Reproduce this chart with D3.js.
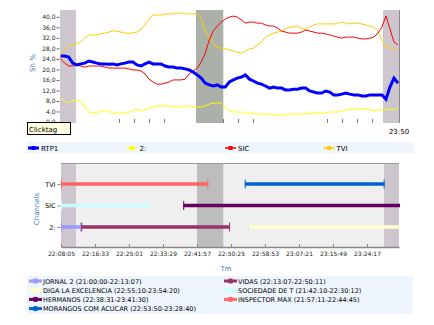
<!DOCTYPE html>
<html><head><meta charset="utf-8">
<script src="https://cdn.jsdelivr.net/npm/d3@7"></script>
<style>body{margin:0;background:#fff;} svg{display:block;font-family:"DejaVu Sans",sans-serif;}</style>
</head><body><svg id="c" width="434" height="325"></svg>
<script>
// ---------- data ----------
const times = ["22:08","22:09","22:10","22:11","22:12","22:13","22:14","22:15","22:16","22:17",
"22:18","22:19","22:20","22:21","22:22","22:23","22:24","22:25","22:26","22:27",
"22:28","22:29","22:30","22:31","22:32","22:33","22:34","22:35","22:36","22:37",
"22:38","22:39","22:40","22:41","22:42","22:43","22:44","22:45","22:46","22:47",
"22:48","22:49","22:50","22:51","22:52","22:53","22:54","22:55","22:56","22:57",
"22:58","22:59","23:00","23:01","23:02","23:03","23:04","23:05","23:06","23:07",
"23:08","23:09","23:10","23:11","23:12","23:13","23:14","23:15","23:16","23:17",
"23:18","23:19","23:20","23:21","23:22","23:23","23:24","23:25","23:26","23:27",
"23:28","23:29","23:30","23:31","23:32"];
const seriesNames = ["RTP1","2:","SIC","TVI"];
const rtp1 = [25.1,25.1,24.7,22.4,21.7,22.1,22.4,23.2,22.8,22.4,
22.1,22.1,22.0,22.1,21.7,22.1,22.4,22.8,22.8,21.7,
21.3,22.1,22.8,22.1,22.1,22.1,21.3,20.9,20.9,20.5,
20.5,20.2,19.8,19.0,17.9,16.7,14.8,14.1,13.7,14.1,
13.3,13.3,15.2,16.0,16.7,17.1,17.9,16.3,15.6,14.8,
14.4,13.7,12.9,13.3,12.9,12.9,12.2,12.2,12.5,12.5,
12.9,12.9,11.8,11.4,11.0,11.0,11.8,11.4,10.3,10.3,
10.6,11.0,10.6,10.3,10.3,9.9,9.9,10.3,10.3,10.3,
10.3,8.7,13.3,16.7,14.8];
const two = [9.1,8.0,7.2,8.0,8.4,8.0,5.7,3.8,3.4,3.8,
3.8,4.2,4.2,3.4,3.4,3.4,3.4,3.8,4.2,4.9,
4.2,4.6,5.3,5.7,6.1,6.1,6.1,6.1,5.7,5.7,
5.7,6.1,6.1,5.7,5.7,5.7,6.1,6.8,7.2,7.2,
7.2,5.7,4.2,3.8,3.8,3.8,3.4,3.4,3.0,3.0,
3.0,3.0,3.0,2.7,2.7,2.7,2.7,3.0,3.0,3.0,
3.0,3.0,3.4,3.4,3.4,3.4,3.4,3.8,3.8,3.8,
4.2,4.6,4.9,4.9,4.9,4.9,4.9,4.6,4.2,4.6,
4.6,4.6,4.9,4.6,5.3];
const sic = [24.0,22.4,21.3,21.3,21.7,21.3,20.9,21.3,21.3,21.3,
21.3,20.9,20.5,20.5,20.5,20.5,20.5,20.2,19.8,19.8,
19.4,18.3,16.3,15.2,14.4,14.4,14.8,15.2,16.0,16.0,
16.0,16.3,18.3,19.4,20.5,22.8,26.2,31.2,34.6,36.5,
38.0,39.2,39.9,40.3,39.9,38.8,37.6,38.0,38.0,37.6,
37.6,36.9,36.5,36.5,35.7,34.6,34.2,33.8,33.8,33.8,
34.2,35.0,34.6,34.2,33.8,33.8,33.5,33.1,32.7,32.3,
31.9,32.3,32.3,32.3,31.9,31.6,31.6,31.9,32.3,33.8,
36.1,40.3,35.4,30.4,29.3];
const tvi = [24.7,27.4,28.9,29.3,29.7,30.4,31.9,33.1,33.1,33.1,
33.5,33.8,34.2,34.6,34.6,34.2,33.8,33.8,33.8,34.2,
35.4,36.9,39.2,40.7,40.7,40.7,41.1,41.1,41.1,41.4,
41.4,41.1,41.1,41.1,41.1,39.2,35.0,31.9,29.7,28.5,
28.1,27.8,27.4,27.0,26.6,26.2,27.0,27.8,28.1,29.3,
30.4,32.3,33.1,33.8,34.2,34.6,35.4,36.1,36.1,36.5,
35.7,35.0,36.1,36.9,37.3,37.3,37.3,37.3,37.3,37.6,
38.0,37.6,37.3,37.6,37.6,37.3,36.9,36.5,36.1,34.6,
31.2,28.5,28.1,28.1,27.4];
const yTicks = [0,4,8,12,16,20,24,28,32,36,40];
const topXTicks = ["22:22:32","22:26:16","22:30:00","22:33:44","22:48:25","22:52:10","22:55:54","23:14:19","23:18:03","23:21:47","23:25:32"];
const bottomXTicks = ["22:08:05","22:16:33","22:25:01","22:33:29","22:41:57","22:50:25","22:58:53","23:07:21","23:15:49","23:24:17"];
const domainStart = "22:08:05", domainEnd = "23:32:15";
const breakStarts = ["22:08:05","22:41:57","23:28:31"];
const breakEnds   = ["22:11:49","22:48:30","23:32:15"];
const breakKinds  = ["a","b","a"];
const channels = ["TVI","SIC","2:"];
const programNames    = ["JORNAL 2","VIDAS","DIGA LA EXCELENCIA","SOCIEDADE DE T","HERMANOS","INSPECTOR MAX","MORANGOS COM ACUCAR"];
const programChannels = ["2:","2:","2:","SIC","SIC","TVI","TVI"];
const programStarts   = ["21:00:00","22:13:07","22:55:10","21:42:10","22:38:31","21:57:11","22:53:50"];
const programEnds     = ["22:13:07","22:50:11","23:54:20","22:30:12","23:41:30","22:44:45","23:28:40"];
const startLabel = "Clicktag", endLabel = "23:50";
const yTitle = "Sh %", chTitle = "Channels", xTitle = "Tm";

// ---------- styles ----------
const seriesColors = {"RTP1":"#0000ff","2:":"#ffff00","SIC":"#ff0000","TVI":"#ffcc00"};
const progColors = ["#9999ff","#993366","#ffffcc","#ccffff","#660066","#ff6666","#0066cc"];
const shadeTop = {a:"#cdc6cf", b:"#abb1a9"};
const shadeBot = {a:"#cdc6cf", b:"#bdbdbd"};
const titleColor = "#3d7ab5";

const pHMS = d3.timeParse("%H:%M:%S"), pHM = d3.timeParse("%H:%M");
const svg = d3.select("#c");
const d0 = pHMS(domainStart), d1 = pHMS(domainEnd);
const x = d3.scaleTime().domain([d0, d1]).range([61, 399]);

// ---------- top chart ----------
const y = d3.scaleLinear().domain([0, 42.6]).range([122, 10]);
const topG = svg.append("g");
topG.selectAll("rect.sh").data(breakStarts).enter().append("rect")
  .attr("x", (d,i)=>x(pHMS(d))-1).attr("y",10)
  .attr("width",(d,i)=>x(pHMS(breakEnds[i]))-x(pHMS(d))+1).attr("height",113)
  .attr("fill",(d,i)=>shadeTop[breakKinds[i]]);
svg.append("clipPath").attr("id","clipTop").append("rect").attr("x",60).attr("y",9).attr("width",340).attr("height",115);
const seriesData = {"RTP1":rtp1,"2:":two,"SIC":sic,"TVI":tvi};
const line = d3.line().x(d=>x(d.t)).y(d=>y(d.v));
["TVI","2:","SIC","RTP1"].forEach(name=>{
  const pts = times.map((t,i)=>({t:pHM(t), v:seriesData[name][i]}));
  topG.append("path").datum(pts).attr("d",line).attr("fill","none")
    .attr("clip-path","url(#clipTop)")
    .attr("stroke",seriesColors[name]).attr("stroke-width", name==="RTP1"?3:1)
    .attr("stroke-linejoin","miter");
});
topG.append("line").attr("x1",399.5).attr("x2",399.5).attr("y1",10).attr("y2",123).attr("stroke","#8a8a8a");
const ya = topG.append("g").attr("transform","translate(59.5,0)")
  .call(d3.axisLeft(y).tickValues(yTicks).tickFormat(d=>d3.format(".1f")(d).replace(".",",")).tickSize(3).tickPadding(1));
ya.select(".domain").remove();
ya.selectAll("text").attr("font-size",6).attr("font-family","DejaVu Sans").attr("fill","#222");
ya.selectAll("line").attr("stroke","#666");
topG.selectAll("line.xt").data(topXTicks).enter().append("line")
  .attr("x1",d=>Math.round(x(pHMS(d)))+0.5).attr("x2",d=>Math.round(x(pHMS(d)))+0.5)
  .attr("y1",119).attr("y2",123).attr("stroke","#777");
topG.append("text").attr("transform","translate(35,63) rotate(-90)").attr("text-anchor","middle")
  .attr("font-size",7).attr("fill",titleColor).text(yTitle);
topG.append("rect").attr("x",27.5).attr("y",122.5).attr("width",43).attr("height",12)
  .attr("fill","#ffffe1").attr("stroke","#000");
topG.append("text").attr("x",29).attr("y",131.5).attr("font-size",7).attr("fill","#000").text(startLabel);
topG.append("text").attr("x",399).attr("y",134).attr("text-anchor","middle").attr("font-size",7).attr("fill","#000").text(endLabel);

// legend 1
const lg1 = svg.append("g");
lg1.append("rect").attr("x",26).attr("y",142).attr("width",388).attr("height",11).attr("fill","#eef5fd");
seriesNames.forEach((n,i)=>{
  const lx = 28 + i*98.5;
  lg1.append("line").attr("x1",lx).attr("x2",lx+11).attr("y1",148).attr("y2",148)
    .attr("stroke",seriesColors[n]).attr("stroke-width", n==="RTP1"?3:1.5);
  lg1.append("rect").attr("x",lx+3.5).attr("y",146).attr("width",4).attr("height",4).attr("fill",seriesColors[n]);
  lg1.append("text").attr("x",lx+13).attr("y",150.5).attr("font-size",7).attr("fill","#000").text(n);
});

// ---------- bottom chart ----------
const bot = svg.append("g");
bot.append("rect").attr("x",61).attr("y",163).attr("width",338).attr("height",84).attr("fill","#efefef");
bot.selectAll("rect.sh").data(breakStarts).enter().append("rect")
  .attr("x",d=>x(pHMS(d))).attr("y",163)
  .attr("width",(d,i)=>x(pHMS(breakEnds[i]))-x(pHMS(d))).attr("height",84)
  .attr("fill",(d,i)=>shadeBot[breakKinds[i]]);
bot.append("line").attr("x1",61).attr("x2",399).attr("y1",163.5).attr("y2",163.5).attr("stroke","#999");
const yb = d3.scalePoint().domain(channels).range([184, 227]);
programNames.forEach((n,i)=>{
  const s = pHMS(programStarts[i]), e = pHMS(programEnds[i]);
  const xs = x(s < d0 ? d0 : s), xe = x(e > d1 ? d1 : e) + (e > d1 ? 1 : 0);
  const cy = yb(programChannels[i]);
  bot.append("line").attr("x1",xs).attr("x2",xe).attr("y1",cy).attr("y2",cy)
    .attr("stroke",progColors[i]).attr("stroke-width",3.5);
  bot.append("line").attr("x1",xs+0.5).attr("x2",xs+0.5).attr("y1",cy-4.5).attr("y2",cy+4.5)
    .attr("stroke",progColors[i]).attr("stroke-width",1);
  if (e <= d1) bot.append("line").attr("x1",xe-0.5).attr("x2",xe-0.5).attr("y1",cy-4.5).attr("y2",cy+4.5)
    .attr("stroke",progColors[i]).attr("stroke-width",1);
});
const xa = bot.append("g").attr("transform","translate(0,247)")
  .call(d3.axisBottom(x).tickValues(bottomXTicks.map(pHMS)).tickFormat(d3.timeFormat("%H:%M:%S"))
    .tickSizeInner(-3).tickSizeOuter(0).tickPadding(5));
xa.select(".domain").attr("stroke","#888").attr("stroke-width",1.5);
xa.selectAll("line").attr("stroke","#888");
xa.selectAll("text").attr("font-size",6).attr("font-family","DejaVu Sans").attr("fill","#222");
const yba = bot.append("g").attr("transform","translate(60.5,0)")
  .call(d3.axisLeft(yb).tickSize(3).tickPadding(2));
yba.select(".domain").remove();
yba.selectAll("line").attr("stroke","#888");
yba.selectAll("text").attr("font-size",6.5).attr("font-family","DejaVu Sans").attr("fill","#000");
bot.append("text").attr("transform","translate(39,209) rotate(-90)").attr("text-anchor","middle")
  .attr("font-size",7).attr("fill",titleColor).text(chTitle);
bot.append("text").attr("x",226).attr("y",271).attr("text-anchor","middle")
  .attr("font-size",7).attr("fill",titleColor).text(xTitle);

// legend 2
const lg2 = svg.append("g");
lg2.append("rect").attr("x",27).attr("y",276).attr("width",386).attr("height",38).attr("fill","#eef5fd");
programNames.forEach((n,i)=>{
  const col = i%2, row = Math.floor(i/2);
  const lx = 29 + col*195, ly = 281 + row*9.2;
  lg2.append("line").attr("x1",lx).attr("x2",lx+13).attr("y1",ly).attr("y2",ly)
    .attr("stroke",progColors[i]).attr("stroke-width",3);
  lg2.append("rect").attr("x",lx+4.5).attr("y",ly-2.5).attr("width",4).attr("height",5).attr("fill",progColors[i]);
  lg2.append("text").attr("x",lx+14).attr("y",ly+2.5).attr("font-size",6.5).attr("fill","#000")
    .text(`${n} (${programStarts[i]}-${programEnds[i]})`);
});
</script></body></html>
